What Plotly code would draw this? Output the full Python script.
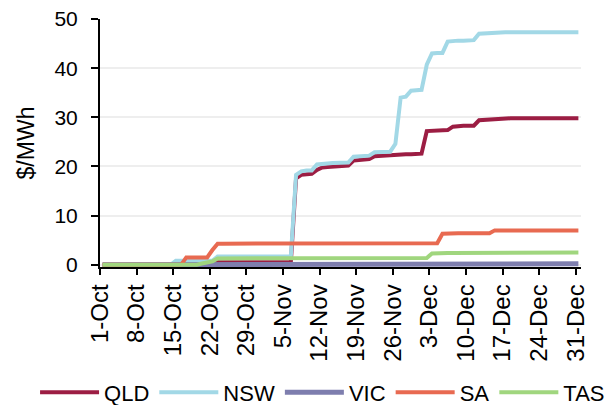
import datetime as dt
import plotly.graph_objects as go

# Daily values, 1 Oct to 31 Dec ($/MWh)
QLD = [
    0.0, 0.0, 0.0, 0.0, 0.0, 0.0, 0.0, 0.0, 0.0, 0.0,
    0.0, 0.0, 0.0, 0.0, 0.0, 0.0, 0.0, 0.0, 0.0, 0.0,
    0.0, 0.0, 0.5, 0.5, 0.5, 0.5, 0.5, 0.5, 0.5, 0.5,
    0.5, 0.5, 0.5, 0.5, 0.5, 0.5, 0.5, 17.6, 18.3, 18.4,
    18.5, 19.3, 19.8, 19.9, 20.0, 20.0, 20.1, 20.2, 21.2, 21.3,
    21.4, 21.5, 22.1, 22.2, 22.3, 22.3, 22.4, 22.4, 22.5, 22.5,
    22.5, 22.6, 27.2, 27.3, 27.3, 27.4, 27.4, 28.1, 28.3, 28.3,
    28.3, 28.3, 29.4, 29.5, 29.5, 29.6, 29.7, 29.8, 29.8, 29.8,
    29.8, 29.8, 29.8, 29.8, 29.8, 29.8, 29.8, 29.8, 29.8, 29.8,
    29.8, 29.8,
]
NSW = [
    0.0, 0.0, 0.0, 0.0, 0.0, 0.0, 0.0, 0.0, 0.0, 0.0,
    0.0, 0.0, 0.0, 0.0, 0.8, 0.8, 0.8, 0.8, 0.8, 0.8,
    0.8, 0.8, 1.7, 1.7, 1.7, 1.7, 1.7, 1.7, 1.7, 1.7,
    1.7, 1.7, 1.7, 1.7, 1.7, 1.7, 1.7, 18.3, 19.0, 19.2,
    19.2, 20.4, 20.6, 20.6, 20.7, 20.7, 20.8, 20.8, 22.0, 22.1,
    22.2, 22.2, 22.9, 22.9, 23.0, 23.0, 24.6, 34.0, 34.2, 35.4,
    35.5, 35.6, 40.7, 43.0, 43.1, 43.1, 45.4, 45.6, 45.6, 45.6,
    45.7, 45.7, 47.0, 47.1, 47.1, 47.2, 47.2, 47.3, 47.3, 47.3,
    47.3, 47.3, 47.3, 47.3, 47.3, 47.3, 47.3, 47.3, 47.3, 47.3,
    47.3, 47.3,
]
VIC = [
    0.0, 0.0, 0.0, 0.0, 0.0, 0.0, 0.0, 0.0, 0.0, 0.0,
    0.0, 0.0, 0.0, 0.0, 0.0, 0.0, 0.0, 0.0, 0.0, 0.0,
    0.0, 0.0, 0.1, 0.1, 0.1, 0.1, 0.1, 0.1, 0.1, 0.1,
    0.1, 0.1, 0.1, 0.1, 0.1, 0.1, 0.1, 0.1, 0.1, 0.1,
    0.1, 0.1, 0.1, 0.1, 0.1, 0.1, 0.1, 0.1, 0.1, 0.1,
    0.1, 0.1, 0.1, 0.1, 0.1, 0.1, 0.1, 0.1, 0.1, 0.1,
    0.1, 0.2, 0.2, 0.2, 0.2, 0.2, 0.2, 0.2, 0.2, 0.2,
    0.2, 0.2, 0.2, 0.2, 0.2, 0.2, 0.2, 0.2, 0.2, 0.2,
    0.2, 0.2, 0.2, 0.2, 0.2, 0.2, 0.2, 0.2, 0.2, 0.2,
    0.2, 0.2,
]
SA = [
    0.0, 0.0, 0.0, 0.0, 0.0, 0.0, 0.0, 0.0, 0.0, 0.0,
    0.0, 0.0, 0.0, 0.0, 0.0, 0.0, 1.5, 1.5, 1.5, 1.5,
    1.5, 3.0, 4.3, 4.3, 4.3, 4.3, 4.3, 4.3, 4.3, 4.3,
    4.3, 4.3, 4.3, 4.3, 4.3, 4.3, 4.3, 4.3, 4.3, 4.3,
    4.3, 4.4, 4.4, 4.4, 4.4, 4.4, 4.4, 4.4, 4.4, 4.4,
    4.4, 4.4, 4.4, 4.4, 4.4, 4.4, 4.4, 4.4, 4.4, 4.4,
    4.4, 4.4, 4.4, 4.4, 4.4, 6.3, 6.4, 6.4, 6.4, 6.4,
    6.4, 6.4, 6.4, 6.4, 6.4, 7.0, 7.0, 7.0, 7.0, 7.0,
    7.0, 7.0, 7.0, 7.0, 7.0, 7.0, 7.0, 7.0, 7.0, 7.0,
    7.0, 7.0,
]
TAS = [
    0.0, 0.0, 0.0, 0.0, 0.0, 0.0, 0.0, 0.0, 0.0, 0.0,
    0.0, 0.0, 0.0, 0.0, 0.0, 0.0, 0.0, 0.0, 0.0, 0.25,
    0.5, 0.7, 1.3, 1.3, 1.3, 1.3, 1.3, 1.3, 1.3, 1.3,
    1.3, 1.3, 1.3, 1.3, 1.3, 1.3, 1.3, 1.3, 1.3, 1.3,
    1.3, 1.4, 1.4, 1.4, 1.4, 1.4, 1.4, 1.4, 1.4, 1.4,
    1.4, 1.4, 1.4, 1.4, 1.4, 1.4, 1.4, 1.4, 1.4, 1.4,
    1.4, 1.4, 1.4, 2.3, 2.4, 2.4, 2.4, 2.4, 2.4, 2.4,
    2.4, 2.4, 2.4, 2.4, 2.4, 2.5, 2.5, 2.5, 2.5, 2.5,
    2.5, 2.5, 2.5, 2.5, 2.5, 2.5, 2.5, 2.5, 2.5, 2.5,
    2.5, 2.5,
]

tick_labels = ["1-Oct", "8-Oct", "15-Oct", "22-Oct", "29-Oct", "5-Nov", "12-Nov",
               "19-Nov", "26-Nov", "3-Dec", "10-Dec", "17-Dec", "24-Dec", "31-Dec"]

# each daily value sits in the middle of its day
first_day = dt.datetime(2019, 10, 1)
dates = [first_day + dt.timedelta(days=i, hours=12) for i in range(len(NSW))]
tick_vals = [first_day + dt.timedelta(days=7 * k) for k in range(len(tick_labels))]

series = [
    ("QLD", QLD, "#9c1d43", 4),
    ("NSW", NSW, "#a2d8e6", 4),
    ("VIC", VIC, "#7e7eae", 5),
    ("SA", SA, "#e86a51", 4),
    ("TAS", TAS, "#a0d67e", 4),
]

fig = go.Figure()
for name, vals, color, width in series:
    fig.add_trace(go.Scatter(
        x=dates, y=vals, name=name, mode="lines",
        line=dict(color=color, width=width),
    ))

font = "Liberation Sans, Arial, sans-serif"
fig.update_layout(
    width=606, height=405,
    margin=dict(l=100, r=25, t=19, b=138, autoexpand=False),
    paper_bgcolor="white", plot_bgcolor="white",
    font=dict(family=font, color="black"),
    showlegend=True,
    legend=dict(
        orientation="h", x=-0.135, xanchor="left", y=-0.506, yanchor="middle",
        font=dict(size=22, family=font), itemwidth=59,
        bgcolor="rgba(0,0,0,0)",
    ),
    xaxis=dict(
        type="date",
        range=[first_day, first_day + dt.timedelta(days=92)],
        tickvals=tick_vals, ticktext=tick_labels, tickangle=-90,
        ticks="outside", ticklen=6, tickwidth=1.5, tickcolor="black",
        showgrid=False, showline=True, linecolor="black", linewidth=1.5,
        layer="below traces",
        tickfont=dict(size=24), automargin=False,
    ),
    yaxis=dict(
        # small headroom below zero so the baseline series is not clipped
        range=[-0.45, 50], dtick=10, tick0=0,
        ticks="outside", ticklen=7, tickwidth=1.5, tickcolor="black",
        ticklabelstandoff=9,
        showline=True, linecolor="black", linewidth=2,
        layer="below traces",
        showgrid=True, gridcolor="#eeeeee", gridwidth=1.5, zeroline=False,
        tickfont=dict(size=21), automargin=False,
        title=dict(text="$/MWh", font=dict(size=23), standoff=13),
    ),
)

fig.write_html("out.html")
